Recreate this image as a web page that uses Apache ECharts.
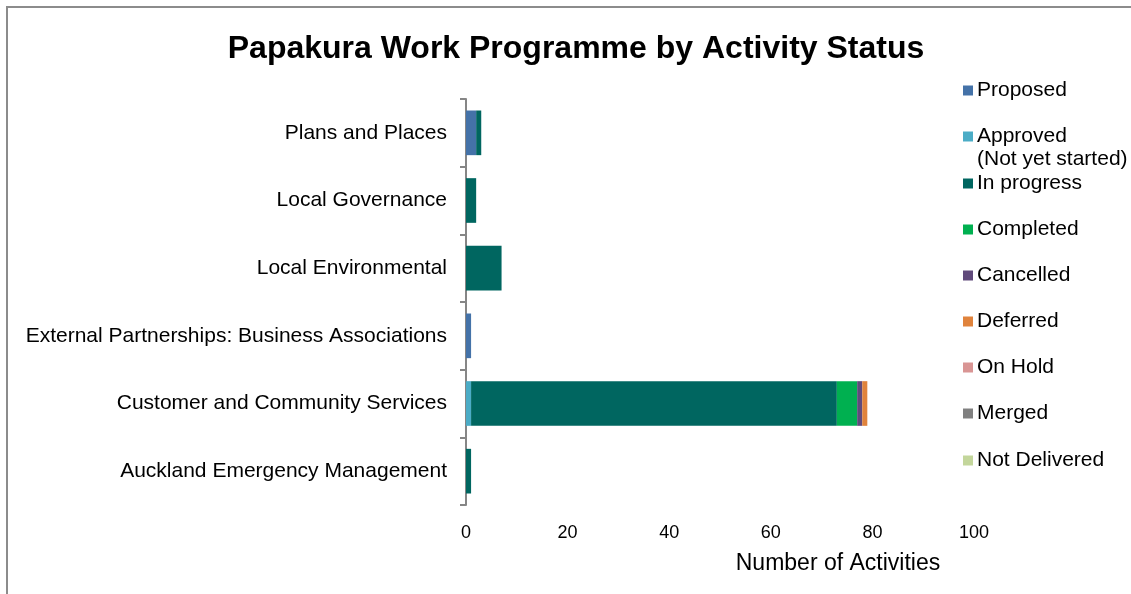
<!DOCTYPE html>
<html>
<head>
<meta charset="utf-8">
<script src="https://cdn.jsdelivr.net/npm/echarts@6/dist/echarts.min.js"></script>
<style>
  html, body { margin: 0; padding: 0; background: #fff; }
  #chart { width: 1131px; height: 594px; }
</style>
</head>
<body>
<div id="chart"></div>
<script>
// categories listed top to bottom as in the chart
const categories = [
  "Plans and Places",
  "Local Governance",
  "Local Environmental",
  "External Partnerships: Business Associations",
  "Customer and Community Services",
  "Auckland Emergency Management"
];
const statusNames = [
  "Proposed", "Approved (Not yet started)", "In progress", "Completed",
  "Cancelled", "Deferred", "On Hold", "Merged", "Not Delivered"
];
const proposed     = [2, 0, 0, 1, 0, 0];
const approved     = [0, 0, 0, 0, 1, 0];
const inProgress   = [1, 2, 7, 0, 72, 1];
const completed    = [0, 0, 0, 0, 4, 0];
const cancelled    = [0, 0, 0, 0, 1, 0];
const deferred     = [0, 0, 0, 0, 1, 0];
const onHold       = [0, 0, 0, 0, 0, 0];
const merged       = [0, 0, 0, 0, 0, 0];
const notDelivered = [0, 0, 0, 0, 0, 0];
const xTicks = [0, 20, 40, 60, 80, 100];

const seriesData = [proposed, approved, inProgress, completed, cancelled, deferred, onHold, merged, notDelivered];
const colors = ["#4472a8", "#4bacc6", "#006660", "#00b050", "#604a7b", "#e0833c", "#d99594", "#808080", "#c3d69b"];
const legendTops = [75, 121, 168, 214, 260, 306, 352, 398, 445];

const chart = echarts.init(document.getElementById("chart"));
const font = "Liberation Sans, Arial, sans-serif";

const option = {
  animation: false,
  textStyle: { fontFamily: font },
  title: {
    text: "Papakura Work Programme by Activity Status",
    left: 571,
    textAlign: "center",
    top: 28,
    textStyle: { fontSize: 32, fontWeight: "bold", color: "#000", fontFamily: font }
  },
  grid: { left: 466, right: 157, top: 99, bottom: 89 },
  xAxis: {
    type: "value",
    min: xTicks[0],
    max: xTicks[xTicks.length - 1],
    interval: 20,
    axisLine: { show: false },
    axisTick: { show: false },
    splitLine: { show: false },
    axisLabel: { color: "#000", fontSize: 18, margin: 19, fontFamily: font },
    name: "Number of Activities",
    nameLocation: "middle",
    nameGap: 47,
    nameTextStyle: { color: "#000", fontSize: 23, fontFamily: font, padding: [0, 0, 0, 236] }
  },
  yAxis: {
    type: "category",
    data: categories,
    inverse: true,
    axisLine: { lineStyle: { color: "#868686", width: 2 } },
    axisTick: { show: true, length: 6, lineStyle: { color: "#868686", width: 2 } },
    axisLabel: { color: "#000", fontSize: 21, margin: 19, fontFamily: font }
  },
  legend: statusNames.map((n, i) => ({
    data: [n],
    orient: "vertical",
    left: 958,
    top: legendTops[i],
    icon: "rect",
    itemWidth: 10,
    itemHeight: 10,
    selectedMode: false,
    formatter: (name) => name === "Approved (Not yet started)" ? "Approved" : name,
    textStyle: { color: "#000", fontSize: 21, fontFamily: font, padding: [0, 0, 0, -1] }
  })),
  graphic: [
    {
      type: "rect",
      silent: true,
      z: -10,
      shape: { x: 7, y: 7, width: 1200, height: 700 },
      style: { fill: "none", stroke: "#8c8c8c", lineWidth: 2 }
    },
    {
      type: "text",
      left: 977,
      top: 149,
      style: { text: "(Not yet started)", fill: "#000", font: "21px " + font }
    }
  ],
  series: statusNames.map((n, i) => ({
    name: n,
    type: "bar",
    stack: "total",
    data: seriesData[i],
    barCategoryGap: "34%",
    itemStyle: { color: colors[i] }
  }))
};
chart.setOption(option);
</script>
</body>
</html>
